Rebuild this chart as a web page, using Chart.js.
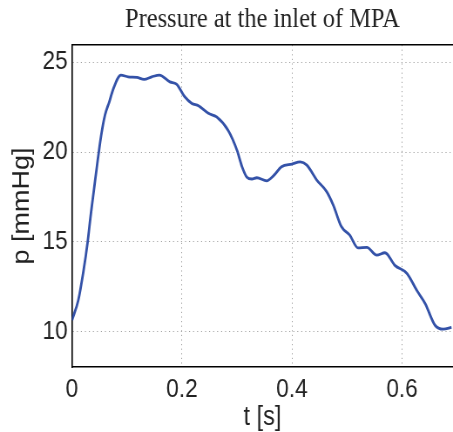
<!DOCTYPE html>
<html>
<head>
<meta charset="utf-8">
<script src="https://cdn.jsdelivr.net/npm/chart.js@4"></script>
<style>
  body { margin: 0; background: #fff; }
  #wrap { width: 453px; height: 432px; overflow: hidden; }
  /* the reference figure is squeezed horizontally, so draw wider and scale down */
  #myChart { width: 453px; height: 432px; }
</style>
</head>
<body>
<div id="wrap"><canvas id="myChart" width="520" height="432" style="width:453px;height:432px"></canvas></div>
<script>
// time [s] and pressure [mmHg]
var times = [0, 0.0115, 0.021, 0.0285, 0.0345, 0.042, 0.053, 0.06, 0.068, 0.075, 0.089,
  0.102, 0.118, 0.131, 0.145, 0.159, 0.178, 0.19, 0.205, 0.218, 0.23, 0.248, 0.263,
  0.284, 0.30, 0.309, 0.318, 0.327, 0.336, 0.354, 0.367, 0.381, 0.40, 0.415, 0.427, 0.445,
  0.463, 0.475, 0.49, 0.505, 0.52, 0.536, 0.554, 0.569, 0.587, 0.609, 0.627, 0.642, 0.66,
  0.675, 0.69];
var pressures = [10.65, 11.76, 13.4, 15.0, 16.6, 18.4, 20.9, 22.05, 22.8, 23.5, 24.28,
  24.18, 24.15, 24.04, 24.18, 24.28, 23.9, 23.78, 23.07, 22.7, 22.57, 22.15, 21.95,
  21.2, 20.1, 19.2, 18.6, 18.5, 18.57, 18.4, 18.7, 19.18, 19.33, 19.45, 19.27, 18.44,
  17.8, 17.05, 15.84, 15.38, 14.67, 14.7, 14.27, 14.4, 13.7, 13.25, 12.3, 11.58, 10.37,
  10.15, 10.25];
var xTicks = [0, 0.2, 0.4, 0.6];
var yTicks = [10, 15, 20, 25];

var points = times.map(function (t, i) { return { x: t, y: pressures[i] }; });

var tickFont = { family: 'Liberation Sans', size: 26 };
var labelFont = { family: 'Liberation Sans', size: 27 };
var gridStyle = {
  color: '#a0a0a0',
  lineWidth: 1,
  drawTicks: false
};
var axisBorder = { color: '#000', width: 1.6, dash: [1.2, 3.4] };

var ctx = document.getElementById('myChart').getContext('2d');
var myChart = new Chart(ctx, {
  type: 'line',
  data: {
    datasets: [{
      data: points,
      borderColor: '#3452a8',
      borderWidth: 2.8,
      pointRadius: 0,
      cubicInterpolationMode: 'monotone',
      fill: false
    }]
  },
  options: {
    responsive: false,
    animation: false,
    layout: { padding: 0 },
    plugins: {
      legend: { display: false },
      tooltip: { enabled: false },
      title: {
        display: true,
        text: 'Pressure at the inlet of MPA',
        fullSize: false,
        color: '#222',
        font: { family: 'Liberation Serif', size: 28, weight: 'normal' },
        padding: { top: 2.6, bottom: 8.8 }
      }
    },
    scales: {
      x: {
        type: 'linear',
        min: 0,
        max: 0.6927,
        afterBuildTicks: function (scale) {
          scale.ticks = xTicks.map(function (v) { return { value: v }; });
        },
        afterFit: function (scale) { scale.height = 65; },
        ticks: {
          font: tickFont,
          color: '#222',
          padding: 7,
          maxRotation: 0,
          callback: function (v) { return String(v); }
        },
        grid: gridStyle,
        border: axisBorder,
        title: {
          display: true,
          text: 't [s]',
          color: '#222',
          font: labelFont,
          padding: { top: 0, bottom: -2 }
        }
      },
      y: {
        min: 8.05,
        max: 25.95,
        afterBuildTicks: function (scale) {
          scale.ticks = yTicks.map(function (v) { return { value: v }; });
        },
        afterFit: function (scale) { scale.width = 82.6; },
        ticks: {
          font: tickFont,
          color: '#222',
          padding: 5
        },
        grid: gridStyle,
        border: axisBorder,
        title: {
          display: true,
          text: 'p [mmHg]',
          color: '#222',
          font: labelFont,
          padding: { top: 9.6, bottom: 0 }
        }
      },
      top: {
        type: 'linear',
        position: 'top',
        min: 0,
        max: 0.6927,
        afterFit: function (scale) { scale.height = 0; },
        ticks: { display: false },
        grid: { display: false },
        border: { color: '#000', width: 1.6 }
      }
    }
  }
});
</script>
</body>
</html>
